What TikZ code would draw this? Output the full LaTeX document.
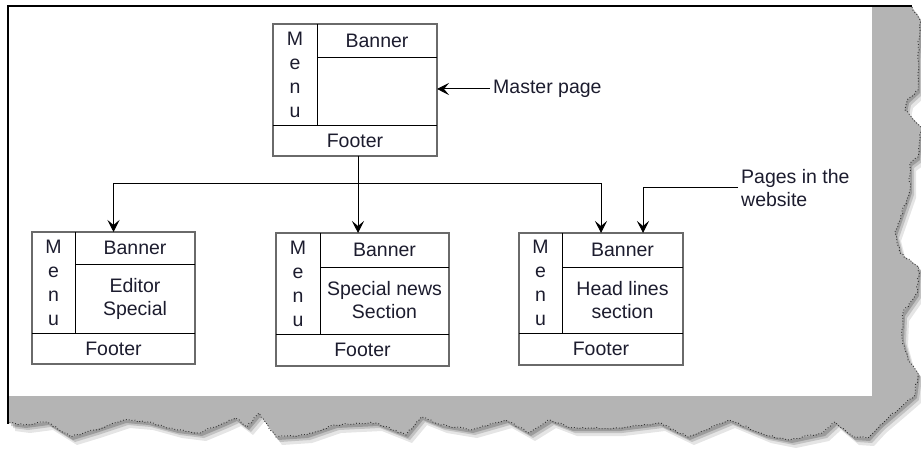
\documentclass[tikz,border=0pt]{standalone}
\usepackage{fontspec}
\setmainfont{Liberation Sans}
\usetikzlibrary{arrows.meta,decorations.pathmorphing}
\definecolor{tearfill}{HTML}{B4B4B4}
\definecolor{boxgray}{HTML}{6A6A6A}
\definecolor{txt}{HTML}{1C1C2E}
\newcommand\tornpath{(9,7) -- (912,7) -- (920,20) -- (918,60) -- (918,90) -- (907,100) -- (905,110) -- (921,127) -- (918,157) -- (910,163) -- (910,190) -- (895,233) -- (900,253) -- (919,267) -- (917,293) -- (903,313) -- (902,338) -- (908,360) -- (918,373) -- (915,395) -- (900,408) -- (880,425) -- (868,438) -- (853,437) -- (835,422) -- (823,433) -- (790,440) -- (765,435) -- (729,420) -- (688,437) -- (659,423) -- (618,428) -- (571,428) -- (550,420) -- (529,433) -- (506,420) -- (471,430) -- (441,425) -- (421,417) -- (406,435) -- (376,423) -- (335,425) -- (306,435) -- (276,437) -- (259,413) -- (247,427) -- (235,418) -- (224,423) -- (200,433) -- (176,430) -- (147,422) -- (124,420) -- (94,430) -- (71,437) -- (47,422) -- (24,425) -- (9,423) -- cycle}
\newcommand\tornedge{(912,7) -- (920,20) -- (918,60) -- (918,90) -- (907,100) -- (905,110) -- (921,127) -- (918,157) -- (910,163) -- (910,190) -- (895,233) -- (900,253) -- (919,267) -- (917,293) -- (903,313) -- (902,338) -- (908,360) -- (918,373) -- (915,395) -- (900,408) -- (880,425) -- (868,438) -- (853,437) -- (835,422) -- (823,433) -- (790,440) -- (765,435) -- (729,420) -- (688,437) -- (659,423) -- (618,428) -- (571,428) -- (550,420) -- (529,433) -- (506,420) -- (471,430) -- (441,425) -- (421,417) -- (406,435) -- (376,423) -- (335,425) -- (306,435) -- (276,437) -- (259,413) -- (247,427) -- (235,418) -- (224,423) -- (200,433) -- (176,430) -- (147,422) -- (124,420) -- (94,430) -- (71,437) -- (47,422) -- (24,425) -- (9,423)}
% #1 name, #2 x1, #3 x2, #4 y1, #5 y2, #6 xdiv, #7 ybanner, #8 yfooter, #9 content
\newcommand\pagebox[9]{%
  \node[outerbox, minimum width={#3-#2}, minimum height={#5-#4}] (#1) at ({(#2+#3)/2},{(#4+#5)/2}) {};
  \draw[innerline] (#6,#4) -- (#6,#8) (#6,#7) -- (#3,#7) (#2,#8) -- (#3,#8);
  \node[lbl, align=center, font=\fontsize{19.5}{24}\selectfont] (#1-menu) at ({(#2+#6)/2},{(#4+#8)/2}) {M\\e\\n\\u};
  \node[lbl] (#1-banner) at ({(#6+#3)/2},{(#4+#7)/2}) {Banner};
  \node[lbl, align=center, font=\fontsize{19.5}{23}\selectfont] (#1-content) at ({(#6+#3)/2},{(#7+#8)/2}) {#9};
  \node[lbl] (#1-footer) at ({(#2+#3)/2},{(#8+#5)/2}) {Footer};
}
\begin{document}
\begin{tikzpicture}[x=1pt,y=-1pt,
  outerbox/.style={draw=boxgray, line width=1.8pt, fill=white, inner sep=0pt, outer sep=0pt},
  innerline/.style={draw=black, line width=0.9pt},
  lbl/.style={text=txt, font=\fontsize{19.5}{23}\selectfont, inner sep=0pt},
  arr/.style={draw=black, line width=1pt, -{Stealth[length=12pt,width=12pt,inset=5pt]}}]
\useasboundingbox (0,0) rectangle (921,449);
\fill[white] (0,0) rectangle (921,449);
% shadow of the torn edge
\fill[black, opacity=0.10] [shift={(6,8)}] \tornpath;
\fill[black, opacity=0.15] [shift={(4,5)}] \tornpath;
\fill[black, opacity=0.20] [shift={(2,3)}] \tornpath;
\fill[tearfill] \tornpath;
\draw[black!80, line width=0.9pt, dotted, decorate, decoration={random steps, segment length=3pt, amplitude=1pt}] \tornedge;
\fill[white] (9,7) rectangle (872,396);
\draw[black, line width=1.6pt] (912,6) -- (8,6) -- (8,424);
% pages
\pagebox{m}{273}{437}{24}{156}{317}{57}{125}{}
\pagebox{p1}{32}{195}{232}{364}{75}{264}{333}{Editor\\Special}
\pagebox{p2}{276}{449}{233}{366}{320}{267}{334}{Special news\\Section}
\pagebox{p3}{519}{683}{233}{365}{562}{267}{333}{Head lines\\section}
% labels
\node[lbl, anchor=west, inner sep=3pt] (mp) at (490,89) {Master page};
\node[lbl, anchor=west, align=left, inner sep=3pt, font=\fontsize{19.5}{23}\selectfont] (pw) at (738,188) {Pages in the\\ website};
% connectors
\coordinate (jx) at (358,184);
\coordinate (p3t) at (643,233);
\draw[black, line width=1pt] (m.south -| jx) -- (jx);
\draw[arr] (jx) -| (p1.north);
\draw[arr] (jx) -| (p3.north);
\draw[arr] (jx) -- (jx |- p2.north);
\draw[arr] (mp.west) -- (mp.west -| m.east);
\draw[arr] (pw.west) -| (p3t);
\end{tikzpicture}
\end{document}
